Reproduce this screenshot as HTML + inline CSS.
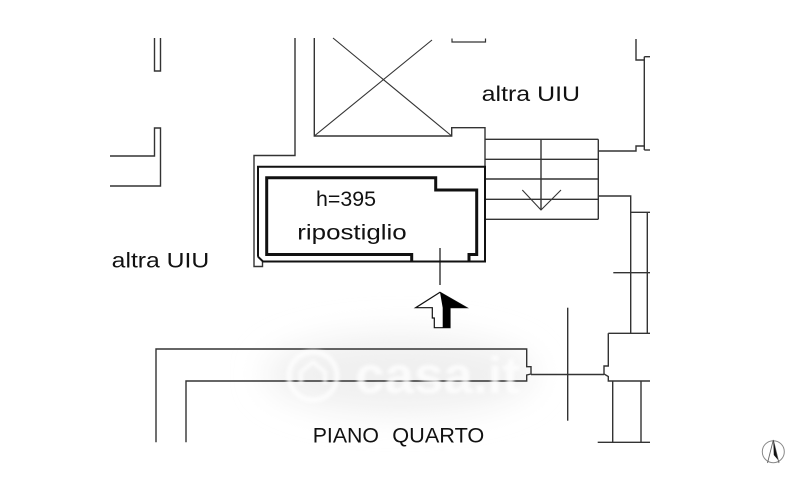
<!DOCTYPE html>
<html>
<head>
<meta charset="utf-8">
<style>
  html,body{margin:0;padding:0;background:#fff;}
  body{width:800px;height:479px;overflow:hidden;}
  svg{display:block;}
  text{font-family:"Liberation Sans",Arial,sans-serif;fill:#111;}
</style>
</head>
<body>
<svg width="800" height="479" viewBox="0 0 800 479" xmlns="http://www.w3.org/2000/svg">
  <defs>
    <filter id="blur" x="-50%" y="-50%" width="200%" height="200%">
      <feGaussianBlur stdDeviation="16"/>
    </filter>
    <filter id="blur2" x="-50%" y="-50%" width="200%" height="200%">
      <feGaussianBlur stdDeviation="1.5"/>
    </filter>
  </defs>
  <rect width="800" height="479" fill="#fff"/>

  <!-- watermark glow -->
  <ellipse cx="400" cy="374" rx="135" ry="40" fill="#f0f0f0" filter="url(#blur)"/>

  <g fill="none" stroke="#333" stroke-width="1.4" stroke-linejoin="miter">
    <!-- left pillars -->
    <polyline points="154.5,38 154.5,71 160.5,71 160.5,38"/>
    <polyline points="110,156 154.5,156 154.5,128 160.5,128 160.5,186 110,186"/>

    <!-- wall left of ripostiglio -->
    <polyline points="295,38 295,155.5 254,155.5 254,266.5 262.5,266.5 262.5,261.5"/>

    <!-- elevator -->
    <polyline points="314.3,38 314.3,136 451.7,136 451.7,127.7 485,127.7 485,166.7"/>
    <line x1="333" y1="38" x2="451.7" y2="136" stroke-width="1.1"/>
    <line x1="432" y1="40" x2="314.3" y2="136" stroke-width="1.1"/>
    <polyline points="452,38.5 452,42 485.5,42 485.5,38.5" stroke-width="1.2"/>

    <!-- stairs -->
    <line x1="485" y1="139.3" x2="598.3" y2="139.3"/>
    <line x1="485" y1="159.3" x2="598.3" y2="159.3"/>
    <line x1="485" y1="179" x2="598.3" y2="179"/>
    <line x1="485" y1="199.3" x2="598.3" y2="199.3"/>
    <line x1="485" y1="219.3" x2="598.3" y2="219.3"/>
    <line x1="541" y1="139.3" x2="541" y2="210"/>
    <line x1="598.3" y1="139.3" x2="598.3" y2="219.3"/>
    <polyline points="522.3,190 541,210 561,190" stroke-width="1.1"/>

    <!-- right upper wall -->
    <polyline points="636,39 636,60 644.3,60"/>
    <line x1="644.3" y1="56.7" x2="644.3" y2="150"/>
    <line x1="644.3" y1="56.7" x2="650" y2="56.7"/>
    <line x1="644.3" y1="150" x2="650" y2="150"/>
    <polyline points="598.3,151 636,151 636,146 644.3,146"/>

    <!-- right lower wall -->
    <polyline points="598.3,196 630.7,196 630.7,333.3"/>
    <line x1="647.3" y1="212.3" x2="647.3" y2="333.3"/>
    <line x1="630.7" y1="212.3" x2="650" y2="212.3"/>
    <line x1="613.3" y1="272.7" x2="650" y2="272.7"/>
    <line x1="608.3" y1="333.3" x2="650" y2="333.3"/>
    <polyline points="608.3,333.3 608.3,366 604,366 604,374 608.3,376.5 608.3,381 650,381"/>
    <line x1="612.7" y1="381" x2="612.7" y2="442.3"/>
    <line x1="641" y1="381" x2="641" y2="442.3"/>
    <line x1="597.7" y1="442.3" x2="650" y2="442.3"/>
    <line x1="531" y1="374.5" x2="604" y2="374.5"/>
    <line x1="567.7" y1="307.7" x2="567.7" y2="420.7"/>

    <!-- corridor -->
    <polyline points="156,442.3 156,349 526.7,349 526.7,366.7 531,366.7 531,374 526.7,375 526.7,381 186,381 186,442.3"/>

    <!-- small vertical below ripostiglio -->
    <line x1="440" y1="248" x2="440" y2="285"/>
  </g>

  <!-- ripostiglio walls -->
  <g fill="none" stroke="#111" stroke-linejoin="miter">
    <polyline points="258,256.7 258,166.7 485,166.7 485,261.5 263,261.5 258,256.7" stroke-width="2"/>
    <polyline points="411.7,261.5 411.7,254.5 266.7,254.5 266.7,177.7 435.7,177.7 435.7,190 476.7,190 476.7,254.5 469,254.5 469,261.5" stroke-width="3"/>
  </g>

  <!-- entrance arrow -->
  <polygon points="440,292.3 415.7,307.7 432.3,307.7 432.3,318 434.3,318 434.3,327.7 450,327.7 450,307.7 466.7,307.7" fill="#fff" stroke="#111" stroke-width="1.2"/>
  <polygon points="440,292.3 466.7,307.7 450,307.7 450,327.7 442.7,327.7 442.7,307.7" fill="#000"/>

  <!-- watermark text -->
  <g opacity="0.75" filter="url(#blur2)">
    <circle cx="313" cy="376" r="24" fill="none" stroke="#fff" stroke-width="5"/>
    <polyline points="301,384 301,372 313,362 325,372 325,384" fill="none" stroke="#fff" stroke-width="4"/>
    <text x="355" y="393" font-size="52" font-weight="bold" style="fill:#fff" textLength="165" lengthAdjust="spacingAndGlyphs">casa.it</text>
  </g>

  <!-- labels -->
  <text x="111.7" y="267.3" font-size="21.5" textLength="97.6" lengthAdjust="spacingAndGlyphs">altra UIU</text>
  <text x="481.7" y="101" font-size="21.5" textLength="98.3" lengthAdjust="spacingAndGlyphs">altra UIU</text>
  <text x="316" y="206" font-size="21.5" textLength="60" lengthAdjust="spacingAndGlyphs">h=395</text>
  <text x="297.3" y="239.3" font-size="21.5" textLength="109.4" lengthAdjust="spacingAndGlyphs">ripostiglio</text>
  <text x="312.7" y="442.7" font-size="21.5" textLength="66.3" lengthAdjust="spacingAndGlyphs">PIANO</text>
  <text x="392.3" y="442.7" font-size="21.5" textLength="92" lengthAdjust="spacingAndGlyphs">QUARTO</text>

  <!-- north arrow -->
  <circle cx="773.3" cy="451.7" r="11" fill="none" stroke="#888" stroke-width="1"/>
  <polyline points="767.5,463 773.3,440 779,463" fill="none" stroke="#666" stroke-width="0.9"/>
  <polygon points="773.3,440 778,460 773.8,455" fill="#111"/>
</svg>
</body>
</html>
